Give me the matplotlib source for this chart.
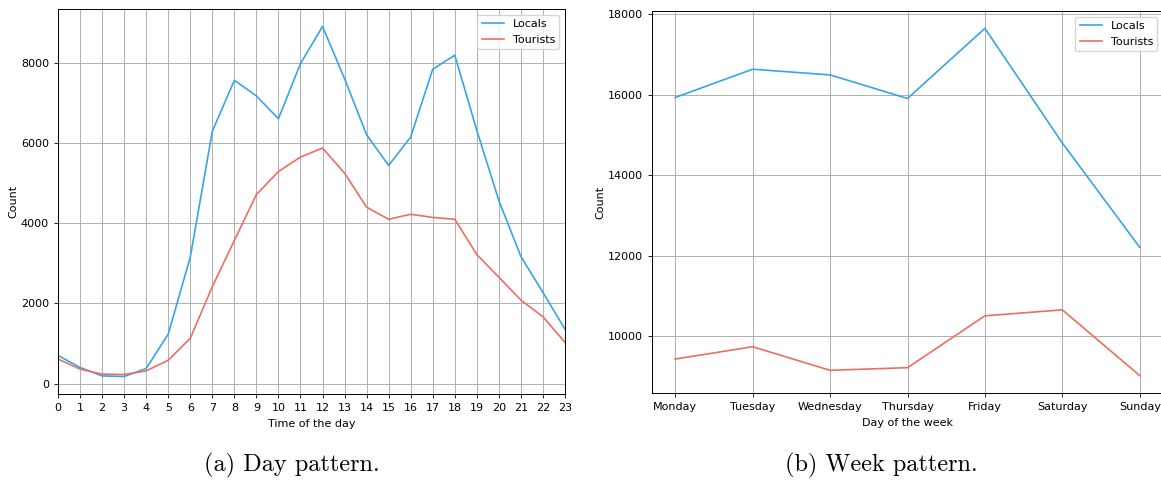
import matplotlib.pyplot as plt

# Hourly counts
hours = list(range(24))
locals_hour = [700, 400, 190, 175, 375, 1230, 3150, 6285, 7560, 7170, 6600, 7975,
               8900, 7600, 6200, 5435, 6145, 7835, 8185, 6310, 4560, 3165, 2270, 1355]
tourists_hour = [610, 360, 235, 225, 315, 580, 1125, 2415, 3565, 4710, 5285, 5645,
                 5870, 5245, 4395, 4095, 4220, 4140, 4095, 3215, 2650, 2080, 1665, 1025]

# Daily counts
days = ['Monday', 'Tuesday', 'Wednesday', 'Thursday', 'Friday', 'Saturday', 'Sunday']
locals_day = [15928, 16630, 16489, 15903, 17645, 14797, 12204]
tourists_day = [9430, 9736, 9150, 9216, 10504, 10652, 9018]

blue = '#37a5e6'
red = '#ee6e5f'

fig = plt.figure(figsize=(11.61, 4.80), dpi=100)
W, H = 1161, 480
ax1 = fig.add_axes([58 / W, (H - 394) / H, (565 - 58) / W, (394 - 9) / H])
ax2 = fig.add_axes([652 / W, (H - 393) / H, (1163 - 652) / W, (393 - 11) / H])

ax1.plot(hours, locals_hour, color=blue, lw=1.2, label='Locals')
ax1.plot(hours, tourists_hour, color=red, lw=1.2, label='Tourists')
ax1.set_xlim(0, 23)
ax1.set_xticks(hours)
ax1.set_xlabel('Time of the day', fontsize=8)
ax1.set_ylabel('Count', fontsize=8, labelpad=2)

ax2.plot(days, locals_day, color=blue, lw=1.2, label='Locals')
ax2.plot(days, tourists_day, color=red, lw=1.2, label='Tourists')
ax2.set_xlabel('Day of the week', fontsize=8)
ax2.set_ylabel('Count', fontsize=8, labelpad=2)

for ax in (ax1, ax2):
    ax.grid(True, color='#b0b0b0', lw=0.7)
    ax.tick_params(labelsize=8, width=0.6, length=3)
    for s in ax.spines.values():
        s.set_linewidth(0.7)
    ax.legend(loc='upper right', fontsize=8)

fig.text(292 / W, 1 - 465 / H, '(a) Day pattern.', family='cmr10', fontsize=17.5,
         ha='center', va='center')
fig.text(881 / W, 1 - 465 / H, '(b) Week pattern.', family='cmr10', fontsize=17.5,
         ha='center', va='center')

fig.savefig('out.png', dpi=100)
